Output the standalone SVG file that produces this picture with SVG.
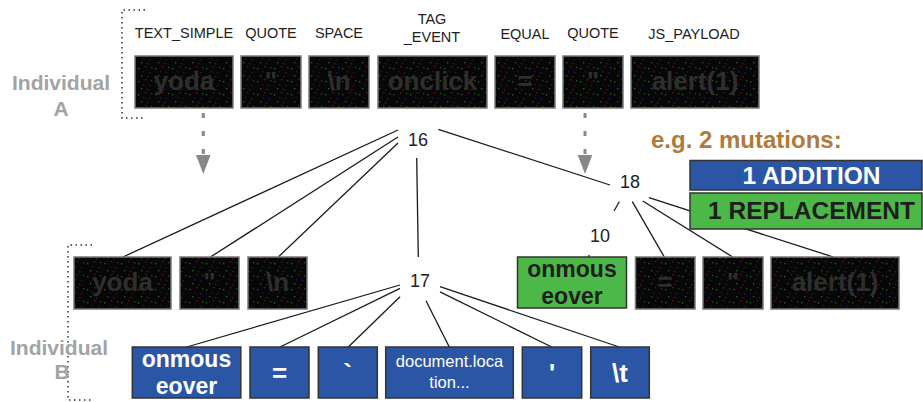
<svg xmlns="http://www.w3.org/2000/svg" width="923" height="402" viewBox="0 0 923 402">
<style>
.lbl{font-family:"Liberation Sans",Arial,sans-serif;font-size:14.5px;fill:#222;text-anchor:middle}
.num{font-family:"Liberation Sans",Arial,sans-serif;font-size:18px;fill:#222;text-anchor:middle}
.ind{font-family:"Liberation Sans",Arial,sans-serif;font-size:21px;font-weight:bold;fill:#a3a3a3;text-anchor:middle}
.blk{fill:url(#noise);stroke:#7a7a7a;stroke-width:1.5}
.bt{font-family:"Liberation Sans",Arial,sans-serif;font-size:26px;font-weight:bold;fill:#2e2e2e;text-anchor:middle}
.blue{fill:#2a56a5;stroke:#333;stroke-width:1.5}
.green{fill:#4cb848;stroke:#333;stroke-width:1.5}
.wt{font-family:"Liberation Sans",Arial,sans-serif;font-size:26px;font-weight:bold;fill:#fff;text-anchor:middle}
.wm{font-family:"Liberation Sans",Arial,sans-serif;font-size:23px;font-weight:bold;fill:#fff;text-anchor:middle}
.gm{font-family:"Liberation Sans",Arial,sans-serif;font-size:23px;font-weight:bold;fill:#1e1e1e;text-anchor:middle}
.doc{font-family:"Liberation Sans",Arial,sans-serif;font-size:16.5px;fill:#fff;text-anchor:middle}
.leg{font-family:"Liberation Sans",Arial,sans-serif;font-size:24.5px;font-weight:bold;text-anchor:middle}
.con line{stroke:#1a1a1a;stroke-width:1.3}
.dot{fill:none;stroke:#333;stroke-width:1.5;stroke-dasharray:1.5 3.5}
.arr{stroke:#888;stroke-width:3;stroke-dasharray:5 13}
</style>
<defs>
<pattern id="noise" width="17" height="13" patternUnits="userSpaceOnUse">
<rect width="17" height="13" fill="#070707"/>
<rect x="2" y="3" width="1.3" height="1.3" fill="#1f6a1f"/>
<rect x="9" y="1" width="1.3" height="1.3" fill="#6a1a1a"/>
<rect x="13" y="7" width="1.3" height="1.3" fill="#1a1a70"/>
<rect x="5" y="10" width="1.3" height="1.3" fill="#1f6a1f"/>
<rect x="11" y="11" width="1.3" height="1.3" fill="#5a1a1a"/>
<rect x="7" y="6" width="1.3" height="1.3" fill="#1a1a60"/>
<rect x="15" y="2" width="1.3" height="1.3" fill="#1a5a1a"/>
</pattern>
</defs>
<rect width="923" height="402" fill="#fff"/>

<g id="brackets">
<path class="dot" d="M145,10 H122 V118 H145"/>
<path class="dot" d="M92,245 H68 V400 H92"/>
</g>
<g id="individual-a"><text class="ind" x="61" y="90">Individual</text><text class="ind" x="61" y="116">A</text></g>
<g id="individual-b"><text class="ind" x="59" y="355">Individual</text><text class="ind" x="62" y="379">B</text></g>

<g id="top-labels">
<text class="lbl" x="184" y="38">TEXT_SIMPLE</text>
<text class="lbl" x="271" y="38">QUOTE</text>
<text class="lbl" x="339" y="38">SPACE</text>
<text class="lbl" x="432" y="24">TAG</text>
<text class="lbl" x="432" y="42">_EVENT</text>
<text class="lbl" x="525" y="39">EQUAL</text>
<text class="lbl" x="593" y="38">QUOTE</text>
<text class="lbl" x="694" y="39">JS_PAYLOAD</text>
</g>

<g id="arrows">
<line class="arr" x1="203.3" y1="113" x2="203.3" y2="160"/>
<polygon points="196,155 210.5,155 203.3,174" fill="#888"/>
<line class="arr" x1="585" y1="113" x2="585" y2="160"/>
<polygon points="577.7,155 592.3,155 585,174" fill="#888"/>
</g>

<g id="connectors" class="con">
<line x1="398" y1="130" x2="123" y2="257"/>
<line x1="398" y1="137" x2="210.5" y2="257"/>
<line x1="398" y1="143" x2="278.3" y2="257"/>
<line x1="416.7" y1="158" x2="418.3" y2="257"/>
<line x1="438.3" y1="129.3" x2="610" y2="185"/>
<line x1="619.3" y1="201.7" x2="614" y2="211"/>
<line x1="589.3" y1="255" x2="588.3" y2="257.3"/>
<line x1="632.3" y1="201.7" x2="664.3" y2="257"/>
<line x1="642.7" y1="201" x2="732.7" y2="257"/>
<line x1="649" y1="197.7" x2="833.3" y2="257"/>
<line x1="400" y1="285" x2="186.7" y2="347"/>
<line x1="400" y1="288.3" x2="280" y2="347"/>
<line x1="400" y1="296.7" x2="348.3" y2="347"/>
<line x1="426" y1="300.7" x2="449.3" y2="347"/>
<line x1="440" y1="291.8" x2="551.7" y2="347"/>
<line x1="440" y1="286.7" x2="619.3" y2="347"/>
</g>

<g id="numbers">
<text class="num" x="418" y="146">16</text>
<text class="num" x="420" y="287">17</text>
<text class="num" x="630" y="188">18</text>
<text class="num" x="600" y="242">10</text>
</g>

<g id="individual-a-nodes">
<g id="a-yoda"><rect class="blk" x="135" y="56" width="98" height="52"/><text class="bt" x="184" y="90">yoda</text></g>
<g id="a-quote1"><rect class="blk" x="241" y="56" width="60" height="52"/><text class="bt" x="271" y="90">"</text></g>
<g id="a-space"><rect class="blk" x="309" y="56" width="60" height="52"/><text class="bt" x="339" y="90">\n</text></g>
<g id="a-onclick"><rect class="blk" x="378" y="56" width="109" height="52"/><text class="bt" x="432.5" y="90">onclick</text></g>
<g id="a-equal"><rect class="blk" x="495" y="56" width="60" height="52"/><text class="bt" x="525" y="90">=</text></g>
<g id="a-quote2"><rect class="blk" x="563" y="56" width="60" height="52"/><text class="bt" x="593" y="90">"</text></g>
<g id="a-alert"><rect class="blk" x="631" y="56" width="128" height="52"/><text class="bt" x="695" y="90">alert(1)</text></g>
</g>

<g id="individual-b-nodes">
<g id="b-yoda"><rect class="blk" x="74" y="257" width="97" height="52"/><text class="bt" x="122.5" y="291">yoda</text></g>
<g id="b-quote1"><rect class="blk" x="180" y="257" width="59" height="52"/><text class="bt" x="209.5" y="291">"</text></g>
<g id="b-space"><rect class="blk" x="248" y="257" width="59" height="52"/><text class="bt" x="277.5" y="291">\n</text></g>
<g id="b-replaced"><rect class="green" x="517.5" y="257" width="109" height="51"/><text class="gm" x="572" y="277">onmous</text><text class="gm" x="572" y="304">eover</text></g>
<g id="b-equal"><rect class="blk" x="635.5" y="257" width="59.5" height="52"/><text class="bt" x="665" y="291">=</text></g>
<g id="b-quote2"><rect class="blk" x="703" y="257" width="60" height="52"/><text class="bt" x="733" y="291">"</text></g>
<g id="b-alert"><rect class="blk" x="771" y="257" width="128" height="52"/><text class="bt" x="835" y="291">alert(1)</text></g>
<g id="n-onmouseover"><rect class="blue" x="132.3" y="347" width="108.5" height="51"/><text class="wm" x="186.5" y="367">onmous</text><text class="wm" x="186.5" y="394">eover</text></g>
<g id="n-equal"><rect class="blue" x="250" y="347" width="59" height="51"/><text class="wt" x="279.5" y="382">=</text></g>
<g id="n-backtick"><rect class="blue" x="318.3" y="347" width="59" height="51"/><text class="wt" x="347.5" y="382">`</text></g>
<g id="n-document"><rect class="blue" x="385.7" y="347" width="127.6" height="51"/><text class="doc" x="449.5" y="367">document.loca</text><text class="doc" x="449.5" y="387.5">tion...</text></g>
<g id="n-quote"><rect class="blue" x="522.3" y="347" width="59.4" height="51"/><text class="wt" x="552" y="382">'</text></g>
<g id="n-tab"><rect class="blue" x="590.7" y="347" width="58.6" height="51"/><text class="wt" x="620" y="382">\t</text></g>
</g>

<g id="legend">
<text x="651" y="148" font-family="Liberation Sans, Arial, sans-serif" font-size="24px" font-weight="bold" fill="#b07a3a">e.g. 2 mutations:</text>
<g id="addition"><rect class="blue" x="690" y="160.5" width="232" height="29.5"/><text class="leg" x="811.5" y="183.5" fill="#fff">1 ADDITION</text></g>
<g id="replacement"><rect class="green" x="690" y="193" width="232" height="36"/><text class="leg" x="811.5" y="219" fill="#1e1e1e">1 REPLACEMENT</text></g>
</g>
</svg>
